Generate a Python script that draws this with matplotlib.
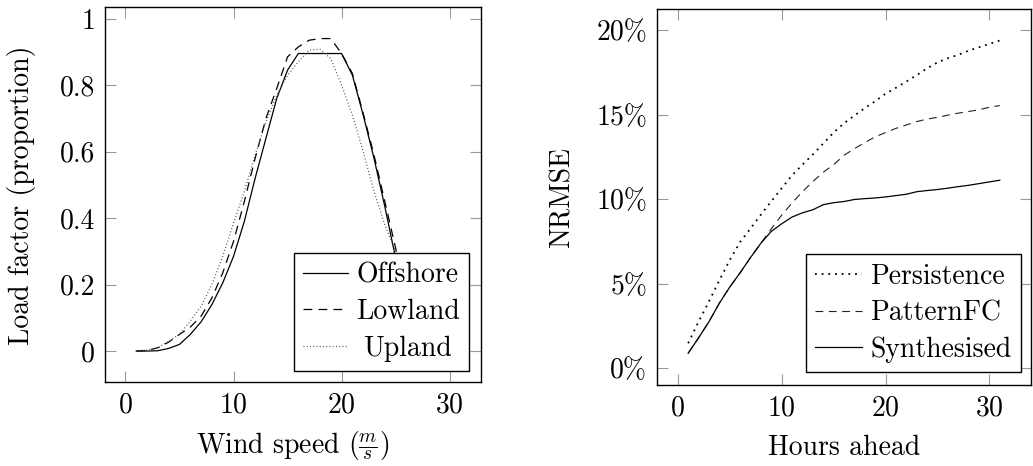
import matplotlib
matplotlib.use('Agg')
import matplotlib.pyplot as plt
from matplotlib.ticker import FuncFormatter, MultipleLocator
from matplotlib.transforms import Affine2D

plt.rcParams['font.family'] = 'cmr10'
plt.rcParams['mathtext.fontset'] = 'cm'
plt.rcParams['axes.formatter.use_mathtext'] = True
plt.rcParams['font.size'] = 20

# 左图: 风速 - 负荷率
wind_speed = list(range(1, 31))
offshore = [0, 0, 0.001, 0.008, 0.02, 0.05, 0.088, 0.14, 0.205, 0.285,
            0.39, 0.52, 0.64, 0.76, 0.845, 0.895, 0.895, 0.895, 0.895, 0.895,
            0.83, 0.71, 0.58, 0.435, 0.28, 0.13, 0.03, 0, 0, 0]
lowland = [0, 0.002, 0.01, 0.027, 0.05, 0.072, 0.105, 0.16, 0.235, 0.33,
           0.45, 0.58, 0.70, 0.79, 0.885, 0.915, 0.935, 0.94, 0.94, 0.895,
           0.835, 0.715, 0.59, 0.45, 0.31, 0.16, 0.05, 0, 0, 0]
upland = [0, 0.003, 0.01, 0.03, 0.05, 0.09, 0.135, 0.2, 0.285, 0.385,
          0.48, 0.59, 0.69, 0.77, 0.83, 0.87, 0.905, 0.908, 0.88, 0.80,
          0.71, 0.60, 0.48, 0.38, 0.30, 0.2, 0.1, 0.03, 0, 0]

# 右图: 预测误差
hours = list(range(1, 32))
persistence = [1.48, 2.75, 3.95, 5.2, 6.4, 7.47, 8.27, 9.09, 9.88, 10.65,
               11.42, 12.05, 12.65, 13.3, 13.95, 14.5, 14.95, 15.4, 15.8, 16.25,
               16.6, 16.97, 17.35, 17.75, 18.1, 18.35, 18.55, 18.8, 19.0, 19.2, 19.4]
pattern_fc = [0.89, 1.8, 2.75, 3.85, 4.8, 5.65, 6.55, 7.4, 8.25, 9.06,
              9.78, 10.45, 11.05, 11.6, 12.05, 12.6, 13.0, 13.35, 13.7, 13.95,
              14.2, 14.4, 14.6, 14.75, 14.85, 14.98, 15.1, 15.2, 15.3, 15.45, 15.55]
synthesised = [0.89, 1.8, 2.75, 3.85, 4.8, 5.65, 6.55, 7.4, 8.1, 8.55,
               8.95, 9.2, 9.38, 9.68, 9.8, 9.87, 9.99, 10.04, 10.08, 10.14,
               10.22, 10.3, 10.45, 10.52, 10.58, 10.66, 10.75, 10.83, 10.93, 11.03, 11.13]

fig = plt.figure(figsize=(10.33, 4.66), dpi=100)
ax1 = fig.add_axes([0.1016, 0.1796, 0.364, 0.8047])
ax2 = fig.add_axes([0.636, 0.1738, 0.362, 0.806])

ax1.plot(wind_speed, offshore, color='black', lw=0.9, label='Offshore')
ax1.plot(wind_speed, lowland, color='black', lw=0.9, linestyle=(0, (7, 5)), label='Lowland')
ax1.plot(wind_speed, upland, color='#555555', lw=0.9, linestyle=(0, (0.8, 1.8)), label='Upland')
ax1.set_xlim(-1.9, 32.9)
ax1.set_ylim(-0.094, 1.034)
ax1.xaxis.set_major_locator(MultipleLocator(10))
ax1.yaxis.set_major_locator(MultipleLocator(0.2))
ax1.yaxis.set_major_formatter(FuncFormatter(lambda v, p: f'{v:g}'))
ax1.set_xlabel(r'Wind speed ($\frac{m}{s}$)', labelpad=8)
ax1.set_ylabel('Load factor (proportion)', labelpad=17)

ax2.plot(hours, persistence, color='black', lw=1.3, linestyle=(0, (1, 2.7)), label='Persistence')
ax2.plot(hours, pattern_fc, color='#222222', lw=0.8, linestyle=(0, (7, 5)), label='PatternFC')
ax2.plot(hours, synthesised, color='black', lw=0.9, label='Synthesised')
ax2.set_xlim(-2, 34)
ax2.set_ylim(-0.99, 21.24)
ax2.xaxis.set_major_locator(MultipleLocator(10))
ax2.yaxis.set_major_locator(MultipleLocator(5))
ax2.yaxis.set_major_formatter(FuncFormatter(lambda v, p: f'{v:g}%'))
ax2.set_xlabel('Hours ahead', labelpad=10)
ax2.set_ylabel('NRMSE', labelpad=15)

for ax in (ax1, ax2):
    ax.tick_params(direction='in', length=8, width=0.8, color='#999999',
                   top=True, right=True, pad=7)
    for s in ax.spines.values():
        s.set_linewidth(1.0)
        s.set_color('black')

leg1 = ax1.legend(loc='lower right', bbox_to_anchor=(0.968, 0.031), borderaxespad=0,
                  fancybox=False, edgecolor='black', framealpha=1, handlelength=1.6,
                  handletextpad=0.3, labelspacing=0.37, borderpad=0.33)
leg2 = ax2.legend(loc='lower right', bbox_to_anchor=(0.9725, 0.034), borderaxespad=0,
                  fancybox=False, edgecolor='black', framealpha=1, handlelength=1.7,
                  handletextpad=0.3, labelspacing=0.37, borderpad=0.33)
for leg in (leg1, leg2):
    leg.get_frame().set_linewidth(1.0)

# 左图图例文字居中
fig.canvas.draw()
renderer = fig.canvas.get_renderer()
texts = leg1.get_texts()
widths = [t.get_window_extent(renderer).width for t in texts]
for t, w in zip(texts, widths):
    t.set_transform(t.get_transform() + Affine2D().translate((max(widths) - w) / 2, 0))

fig.savefig('out.png', dpi=100)
